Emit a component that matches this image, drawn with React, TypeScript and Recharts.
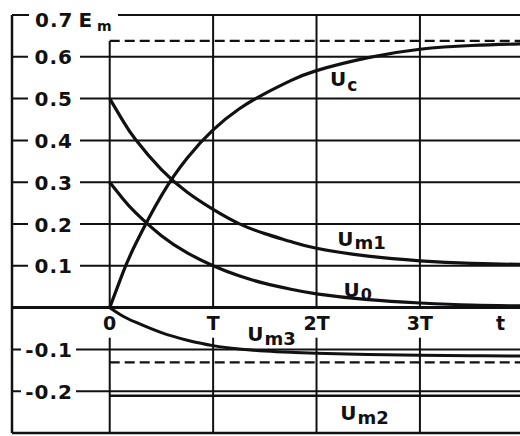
import React from 'react';
import { LineChart, Line, XAxis, YAxis, CartesianGrid, ReferenceLine, ReferenceDot } from 'recharts';

// time in units of T
const tValues = [0, 0.125, 0.25, 0.5, 0.75, 1, 1.25, 1.5, 1.75, 2, 2.5, 3, 3.5, 4, 4.2];
const ucValues = [0, 0.082, 0.152, 0.268, 0.358, 0.425, 0.475, 0.512, 0.543, 0.567, 0.598, 0.618, 0.627, 0.631, 0.632];
const um1Values = [0.5, 0.448, 0.402, 0.33, 0.276, 0.235, 0.201, 0.177, 0.158, 0.142, 0.123, 0.112, 0.106, 0.103, 0.102];
const u0Values = [0.3, 0.261, 0.227, 0.172, 0.131, 0.1, 0.076, 0.058, 0.044, 0.033, 0.019, 0.011, 0.006, 0.004, 0.003];
const um3Values = [0, -0.02, -0.035, -0.06, -0.078, -0.091, -0.099, -0.104, -0.107, -0.109, -0.112, -0.114, -0.115, -0.116, -0.116];
const um2Values = [-0.211, -0.211, -0.211, -0.211, -0.211, -0.211, -0.211, -0.211, -0.211, -0.211, -0.211, -0.211, -0.211, -0.211, -0.211];

const ucLimit = 0.638;
const um3Limit = -0.131;

const yTicks = [-0.3, -0.2, -0.1, 0, 0.1, 0.2, 0.3, 0.4, 0.5, 0.6, 0.7];
const yLabelValues = [-0.2, -0.1, 0.1, 0.2, 0.3, 0.4, 0.5, 0.6, 0.7];
const yLabels = ['-0.2', '-0.1', '0.1', '0.2', '0.3', '0.4', '0.5', '0.6', '0.7'];
const topUnit = 'E';
const topUnitSub = 'm';

const xLabelPositions = [0, 1, 2, 3, 3.78];
const xLabels = ['0', 'T', '2T', '3T', 't'];
const gridXs = [0, 1, 2, 3];

const curveNames = ['U', 'U', 'U', 'U', 'U'];
const curveSubs = ['c', 'm1', '0', 'm3', 'm2'];
const curveLabelT = [2.13, 2.2, 2.26, 1.33, 2.23];
const curveLabelV = [0.529, 0.147, 0.026, -0.08, -0.27];
const curveSubDy = [5, 3, 3, 4, 4];
const curveSubSize = [17, 18, 16, 18, 18];

const data = tValues.map((t, i) => ({
  t,
  uc: ucValues[i],
  um1: um1Values[i],
  u0: u0Values[i],
  um3: um3Values[i],
  um2: um2Values[i],
}));

const X_MIN = -0.945;
const X_MAX = 4.2;
const Y_MIN = -0.3;
const Y_MAX = 0.7;
const GAP_BOTTOM = -0.072;

const FONT = '"DejaVu Sans", sans-serif';
const INK = '#111';

const makeYLabel = (label: string, value: number) => (props: any) => {
  const { cx, cy } = props;
  if (value === Y_MAX) {
    return (
      <g>
        <rect x={cx + 17} y={cy - 3} width={89} height={22} fill="#fff" />
        <text x={cx + 23} y={cy + 11.5} fontFamily={FONT} fontWeight="bold" fontSize={20} fill={INK} letterSpacing={1}>
          <tspan>{label}</tspan>
          <tspan dx={5}>{topUnit}</tspan>
          <tspan dx={4} dy={4} fontSize={14}>{topUnitSub}</tspan>
        </text>
      </g>
    );
  }
  const neg = value < 0;
  return (
    <g>
      <rect x={cx + (neg ? 9 : 16)} y={cy - 9} width={neg ? 55 : 52} height={18} fill="#fff" />
      <text x={cx + 61} y={cy + 7.5} textAnchor="end" fontFamily={FONT} fontWeight="bold" fontSize={20} fill={INK} letterSpacing={1}>
        {label}
      </text>
    </g>
  );
};

const makeXLabel = (label: string) => (props: any) => {
  const { cx, cy } = props;
  return (
    <text x={cx} y={cy + 22} textAnchor="middle" fontFamily={FONT} fontWeight="bold" fontSize={19} fill={INK}>
      {label}
    </text>
  );
};

const makeCurveLabel = (i: number) => (props: any) => {
  const { cx, cy } = props;
  return (
    <text x={cx} y={cy} fontFamily={FONT} fontWeight="bold" fontSize={20} fill={INK}>
      <tspan>{curveNames[i]}</tspan>
      <tspan dx={1} dy={curveSubDy[i]} fontSize={curveSubSize[i]}>{curveSubs[i]}</tspan>
    </text>
  );
};

const lineKeys = ['uc', 'um1', 'u0', 'um3', 'um2'];
const lineWidths = [3.2, 3.2, 3.2, 3.0, 2.4];

export default function App() {
  return (
    <div style={{ position: 'absolute', left: 0, top: 0, width: 520, height: 436, overflow: 'hidden', background: '#fff' }}>
      <LineChart width={560} height={436} data={data} margin={{ top: 15, right: 16, bottom: 3, left: 12 }}>
        <CartesianGrid vertical={false} stroke={INK} strokeWidth={2} />
        <XAxis type="number" dataKey="t" domain={[X_MIN, X_MAX]} hide allowDataOverflow />
        <YAxis type="number" domain={[Y_MIN, Y_MAX]} ticks={yTicks} hide allowDataOverflow />
        <ReferenceLine x={X_MIN} stroke={INK} strokeWidth={2.5} />
        <ReferenceLine y={Y_MAX} stroke={INK} strokeWidth={2} />
        <ReferenceLine y={Y_MIN} stroke={INK} strokeWidth={2.5} />
        <ReferenceLine y={0} stroke={INK} strokeWidth={3} />
        {gridXs.map((gx) => (
          <ReferenceLine
            key={'lo' + gx}
            segment={[{ x: gx, y: Y_MIN }, { x: gx, y: GAP_BOTTOM }]}
            stroke={INK}
            strokeWidth={2}
          />
        ))}
        {gridXs.map((gx) => (
          <ReferenceLine
            key={'hi' + gx}
            segment={[{ x: gx, y: 0 }, { x: gx, y: gx === 0 ? ucLimit : Y_MAX }]}
            stroke={INK}
            strokeWidth={2}
          />
        ))}
        <ReferenceLine
          segment={[{ x: 0, y: ucLimit }, { x: X_MAX, y: ucLimit }]}
          stroke={INK}
          strokeWidth={2.2}
          strokeDasharray="10 5"
        />
        <ReferenceLine
          segment={[{ x: 0, y: um3Limit }, { x: X_MAX, y: um3Limit }]}
          stroke={INK}
          strokeWidth={2.2}
          strokeDasharray="10 5"
        />
        {yLabels.map((lab, i) => (
          <ReferenceDot
            key={'yl' + i}
            x={X_MIN}
            y={yLabelValues[i]}
            r={0}
            ifOverflow="visible"
            shape={makeYLabel(lab, yLabelValues[i])}
          />
        ))}
        {xLabels.map((lab, i) => (
          <ReferenceDot key={'xl' + i} x={xLabelPositions[i]} y={0} r={0} shape={makeXLabel(lab)} />
        ))}
        {lineKeys.map((k, i) => (
          <Line
            key={k}
            type="natural"
            dataKey={k}
            stroke={INK}
            strokeWidth={lineWidths[i]}
            dot={false}
            activeDot={false}
            isAnimationActive={false}
          />
        ))}
        {curveSubs.map((s, i) => (
          <ReferenceDot key={'cl' + i} x={curveLabelT[i]} y={curveLabelV[i]} r={0} shape={makeCurveLabel(i)} />
        ))}
      </LineChart>
    </div>
  );
}
